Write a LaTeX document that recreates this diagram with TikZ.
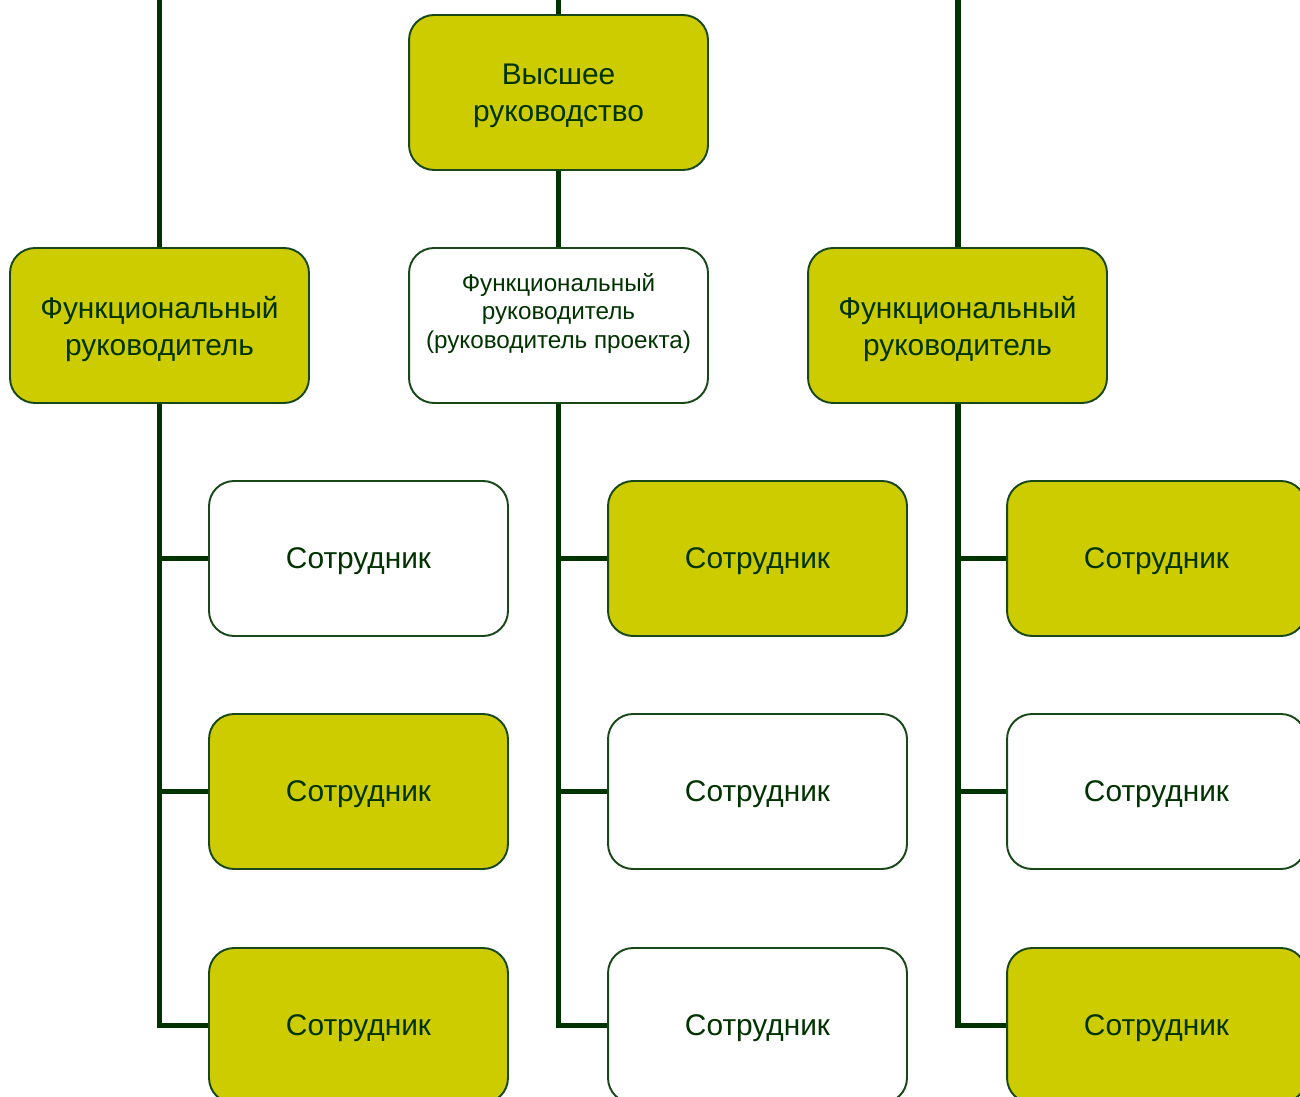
\documentclass[tikz,border=0pt]{standalone}
\usepackage{fontspec}
\setmainfont{Liberation Sans}
\usetikzlibrary{backgrounds}
\definecolor{olive}{RGB}{204,204,0}
\definecolor{trunk}{RGB}{0,51,0}
\definecolor{rim}{RGB}{24,72,24}
\definecolor{ink}{RGB}{0,51,0}
\tikzset{
  box/.style={draw=rim, line width=1.1pt, rounded corners=0.5cm,
    minimum width=5.98cm, minimum height=3.1cm, inner sep=0pt,
    align=center, text=ink, text depth=0pt,
    font=\fontsize{17}{21}\selectfont},
  filled/.style={box, fill=olive},
  plain/.style={box, fill=white},
  link/.style={draw=trunk, line width=3.4pt, line cap=butt, line join=miter}
}
\begin{document}
\begin{tikzpicture}[x=0.02cm, y=-0.02cm]
\useasboundingbox (0,0) rectangle (1300,1097);
\clip (0,0) rectangle (1300,1097);

% management levels
\node[filled] (top) at (558.5,92.5) {Высшее\\руководство};
\node[filled] (lfr) at (159.5,325.5) {Функциональный\\руководитель};
% an empty last line keeps the three lines in the upper part of the box
\node[plain, font=\fontsize{13.8}{16.5}\selectfont] (mfr) at (558.5,325.5)
  {Функциональный\\руководитель\\(руководитель проекта)\\\mbox{}};
\node[filled] (rfr) at (957.5,325.5) {Функциональный\\руководитель};

% employees, column by column
\node[plain]  (e11) at (358.5,558.5) {Сотрудник};
\node[filled] (e12) at (358.5,791.5) {Сотрудник};
\node[filled] (e13) at (358.5,1025.5) {Сотрудник};
\node[filled] (e21) at (757.5,558.5) {Сотрудник};
\node[plain]  (e22) at (757.5,791.5) {Сотрудник};
\node[plain]  (e23) at (757.5,1025.5) {Сотрудник};
\node[filled] (e31) at (1156.5,558.5) {Сотрудник};
\node[plain]  (e32) at (1156.5,791.5) {Сотрудник};
\node[filled] (e33) at (1156.5,1025.5) {Сотрудник};

% lines entering from above
\coordinate (lin) at (159.5,-20);
\coordinate (tin) at (558.5,-20);
\coordinate (rin) at (957.5,-20);

\begin{scope}[on background layer]
  \draw[link] (lin) -- (lfr.north);
  \draw[link] (tin) -- (top.north);
  \draw[link] (rin) -- (rfr.north);
  \draw[link] (top.south) -- (mfr.north);

  \draw[link] (lfr.south) |- (e13.west);
  \draw[link] (lfr.south |- e11.west) -- (e11.west);
  \draw[link] (lfr.south |- e12.west) -- (e12.west);

  \draw[link] (mfr.south) |- (e23.west);
  \draw[link] (mfr.south |- e21.west) -- (e21.west);
  \draw[link] (mfr.south |- e22.west) -- (e22.west);

  \draw[link] (rfr.south) |- (e33.west);
  \draw[link] (rfr.south |- e31.west) -- (e31.west);
  \draw[link] (rfr.south |- e32.west) -- (e32.west);
\end{scope}
\end{tikzpicture}
\end{document}
